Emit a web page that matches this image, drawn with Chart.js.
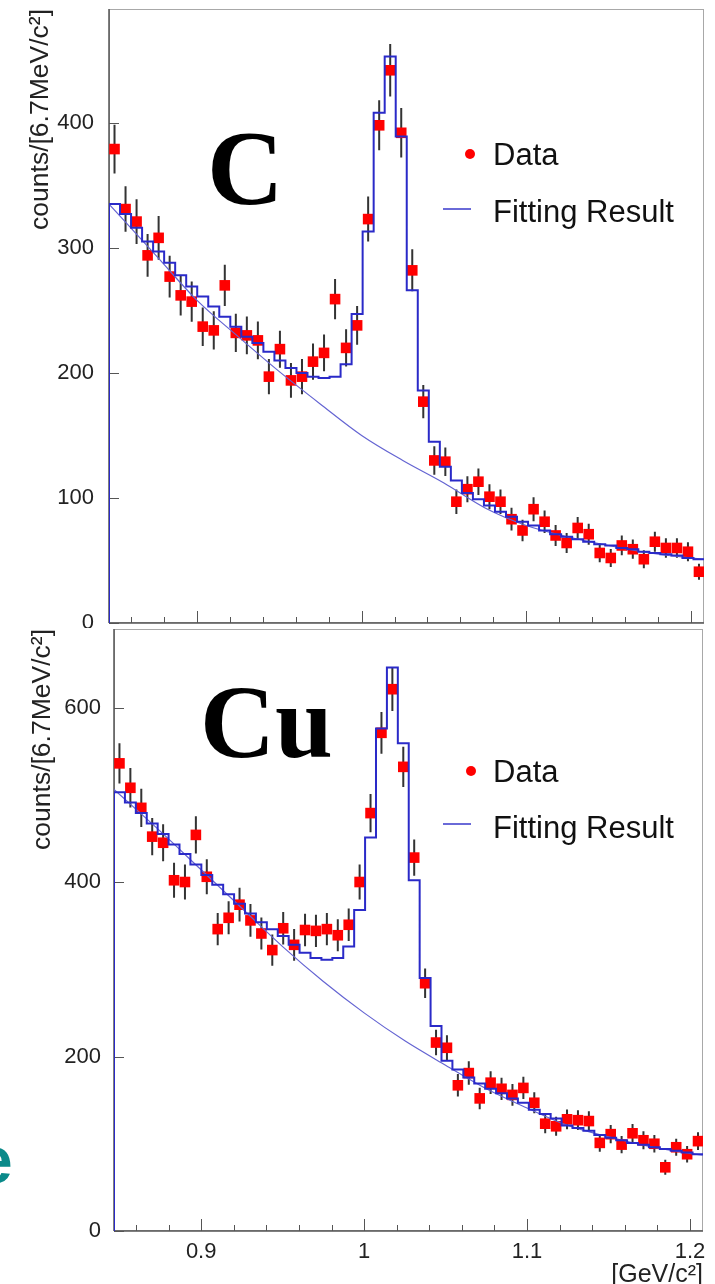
<!DOCTYPE html>
<html>
<head>
<meta charset="utf-8">
<script src="https://cdn.jsdelivr.net/npm/chart.js@4.4.1/dist/chart.umd.min.js"></script>
<style>
body { margin: 0; background: #fff; }
#page { position: relative; width: 715px; height: 1284px; overflow: hidden; background: #fff; font-family: "Liberation Sans", Arial, sans-serif; }
.panel { position: absolute; left: 0; width: 715px; background: #fff; }
.big { position: absolute; font-family: "Liberation Serif", "Times New Roman", serif; font-weight: bold; line-height: 1; color: #000; }
.leg { position: absolute; font-size: 31px; line-height: 1; color: #111; white-space: nowrap; }
.dot { position: absolute; width: 10px; height: 10px; border-radius: 50%; background: #f00; }
.dash { position: absolute; width: 28px; height: 2px; background: #6a6ad8; }
.side { position: absolute; font-family: "Liberation Sans", Arial, sans-serif; font-weight: bold; line-height: 1; color: #0a8a8a; }
</style>
</head>
<body>
<div id="page">
  <div class="panel" style="top:0;height:628px"><canvas id="chartC" width="715" height="628"></canvas></div>
  <div class="panel" style="top:628px;height:656px"><canvas id="chartCu" width="715" height="656"></canvas></div>

  <div class="big" style="left:207px;top:116px;font-size:106px">C</div>
  <div class="big" style="left:200px;top:670px;font-size:104px">Cu</div>

  <div class="dot" style="left:465px;top:149px"></div>
  <div class="leg" style="left:493px;top:139px">Data</div>
  <div class="dash" style="left:443px;top:208px"></div>
  <div class="leg" style="left:493px;top:196px">Fitting Result</div>

  <div class="dot" style="left:466px;top:766px"></div>
  <div class="leg" style="left:493px;top:756px">Data</div>
  <div class="dash" style="left:443px;top:823px"></div>
  <div class="leg" style="left:493px;top:812px">Fitting Result</div>

  <div class="side" style="left:-24px;top:1127px;font-size:66px">e</div>
</div>

<script>
// binning of the invariant mass histograms [GeV/c^2]
var BIN_LO = 0.8465;
var BIN_W = 0.0067;
var X_MIN = 0.8465;
var X_MAX = 1.208;
var X_TICKS = [0.9, 1.0, 1.1, 1.2];
var X_MINOR = [0.86, 0.88, 0.9, 0.92, 0.94, 0.96, 0.98, 1.0, 1.02, 1.04, 1.06, 1.08, 1.1, 1.12, 1.14, 1.16, 1.18, 1.2];

// C target
var C_COUNTS = [379,331,321,294,308,277,262,257,237,234,270,232,230,226,197,219,194,197,209,216,
                259,220,238,323,398,442,392,282,177,130,129,97,107,113,101,97,83,74,91,81,
                70,64,76,71,56,52,62,59,51,65,60,60,57,41];
var C_FIT = [335,327,316,305,297,288,278,269,261,253,245,237,229,224,217,210,204,200,197,196,
             197,207,247,313,408,453,389,266,186,145,125,114,104,99,94,89,85,81,78,74,
             71,69,67,65,63,62,60,59,57,56,55,54,52,51];
var C_Y_TICKS = [0, 100, 200, 300, 400];

// Cu target
var CU_COUNTS = [536,508,485,452,445,402,400,454,406,346,359,374,356,341,322,347,328,345,344,346,
                 339,351,400,479,571,621,532,428,284,216,210,167,181,152,170,163,156,164,147,123,
                 120,128,127,126,101,111,99,112,104,100,73,96,88,103];
var CU_FIT = [503,491,479,467,455,443,432,420,408,397,386,375,364,354,346,338,328,319,313,311,
              313,326,368,451,576,646,559,402,290,235,195,185,176,169,163,158,152,147,139,134,
              129,121,118,115,110,107,104,101,99,96,94,92,90,88];
var CU_Y_TICKS = [0, 200, 400, 600];

// smooth background component of the fit
var BKG_X = [0.8465, 0.875, 0.9, 0.925, 0.95, 0.975, 1.0, 1.025, 1.05, 1.075, 1.1, 1.125, 1.15, 1.175, 1.2, 1.208];
var C_BKG = [335, 294, 258, 229, 201, 175, 150, 130, 112, 92, 78, 69, 62, 56, 52, 51];
var CU_BKG = [506, 458, 414, 370, 326, 286, 250, 218, 190, 163, 141, 121, 108, 97, 89, 87];

var TXT = '#222';
var FONT = '"Liberation Sans", Arial, sans-serif';

function binPoints(vals) {
    var pts = [];
    for (var i = 0; i < vals.length; i++) {
        pts.push({x: BIN_LO + BIN_W * (i + 0.5), y: vals[i]});
    }
    return pts;
}

// histogram outline: rises from 0 at the low edge, one step per bin
function histPoints(vals) {
    var pts = [{x: BIN_LO, y: 0}];
    for (var i = 0; i < vals.length; i++) {
        pts.push({x: BIN_LO + BIN_W * (i + 1), y: vals[i]});
    }
    return pts;
}

function curvePoints(xs, ys) {
    return xs.map(function (x, i) { return {x: x, y: ys[i]}; });
}

// ROOT style frame, inward ticks and poisson error bars
var rootFrame = {
    id: 'rootFrame',
    beforeDatasetsDraw: function (chart, args, opts) {
        var a = chart.chartArea, ctx = chart.ctx;
        var xs = chart.scales.x, ys = chart.scales.y;
        ctx.save();
        ctx.strokeStyle = '#a8a8a8';
        ctx.lineWidth = 1;
        ctx.strokeRect(a.left + 0.5, a.top + 0.5, a.right - a.left - 1, a.bottom - a.top - 1);

        ctx.strokeStyle = '#555';
        ctx.lineWidth = 1.5;
        ctx.beginPath();
        ctx.moveTo(a.left, a.bottom); ctx.lineTo(a.right, a.bottom);
        ctx.moveTo(a.left, a.top); ctx.lineTo(a.left, a.bottom);
        ctx.stroke();

        ctx.lineWidth = 1;
        ctx.beginPath();
        X_MINOR.forEach(function (v) {
            var px = Math.round(xs.getPixelForValue(v)) + 0.5;
            var major = X_TICKS.some(function (t) { return Math.abs(t - v) < 1e-6; });
            ctx.moveTo(px, a.bottom);
            ctx.lineTo(px, a.bottom - (major ? 12 : 6));
        });
        ys.ticks.forEach(function (t) {
            var py = Math.round(ys.getPixelForValue(t.value)) + 0.5;
            ctx.moveTo(a.left, py);
            ctx.lineTo(a.left + 10, py);
        });
        ctx.stroke();

        var counts = opts.counts;
        var meta = chart.getDatasetMeta(0);
        ctx.strokeStyle = '#333';
        ctx.lineWidth = 2;
        ctx.beginPath();
        meta.data.forEach(function (pt, i) {
            var e = Math.sqrt(counts[i]);
            ctx.moveTo(pt.x, ys.getPixelForValue(counts[i] + e));
            ctx.lineTo(pt.x, ys.getPixelForValue(counts[i] - e));
        });
        ctx.stroke();
        ctx.restore();
    }
};

function makePanel(id, p) {
    var ctx = document.getElementById(id);
    return new Chart(ctx, {
        type: 'line',
        data: {
            datasets: [{
                label: 'Data',
                data: binPoints(p.counts),
                showLine: false,
                pointStyle: 'rect',
                pointRadius: 7.5,
                pointBackgroundColor: '#ff0000',
                pointBorderWidth: 0,
                order: 3
            }, {
                label: 'Background',
                data: curvePoints(BKG_X, p.bkg),
                borderColor: '#6464d2',
                borderWidth: 1.2,
                pointRadius: 0,
                cubicInterpolationMode: 'monotone',
                order: 2
            }, {
                label: 'Fitting Result',
                data: histPoints(p.fit),
                borderColor: '#2a2ac8',
                borderWidth: 2,
                pointRadius: 0,
                stepped: 'after',
                order: 1
            }]
        },
        options: {
            responsive: false,
            animation: false,
            events: [],
            layout: { padding: p.padding, autoPadding: false },
            plugins: {
                legend: { display: false },
                tooltip: { enabled: false },
                rootFrame: { counts: p.counts }
            },
            scales: {
                x: {
                    type: 'linear',
                    min: X_MIN,
                    max: X_MAX,
                    grid: { display: false },
                    border: { display: false },
                    afterBuildTicks: function (s) {
                        s.ticks = X_TICKS.map(function (v) { return {value: v}; });
                    },
                    afterFit: function (s) {
                        s.height = p.xHeight;
                        s.paddingLeft = 0;
                        s.paddingRight = 0;
                    },
                    ticks: {
                        display: p.xLabels,
                        padding: 0,
                        color: TXT,
                        font: { family: FONT, size: 22 },
                        maxRotation: 0,
                        callback: function (v) { return String(+v.toFixed(2)); }
                    },
                    title: {
                        display: p.xLabels,
                        text: '[GeV/c²]',
                        align: 'end',
                        color: TXT,
                        padding: { top: 0, bottom: -4 },
                        font: { family: FONT, size: 25, lineHeight: 1 }
                    }
                },
                y: {
                    min: 0,
                    max: p.yMax,
                    grid: { display: false },
                    border: { display: false },
                    afterBuildTicks: function (s) {
                        s.ticks = p.yTicks.map(function (v) { return {value: v}; });
                    },
                    afterFit: function (s) {
                        s.width = p.yWidth;
                        s.paddingTop = 0;
                        s.paddingBottom = 0;
                    },
                    ticks: {
                        padding: p.yPad,
                        color: TXT,
                        font: { family: FONT, size: 22 }
                    },
                    title: {
                        display: true,
                        text: 'counts/[6.7MeV/c²]',
                        align: 'end',
                        color: TXT,
                        padding: { top: p.titlePad, bottom: 0 },
                        font: { family: FONT, size: 26.5 }
                    }
                }
            }
        },
        plugins: [rootFrame]
    });
}

makePanel('chartC', {
    counts: C_COUNTS, fit: C_FIT, bkg: C_BKG,
    yMax: 491, yTicks: C_Y_TICKS,
    padding: { left: 0, top: 9, right: 11, bottom: 0 },
    yWidth: 109, yPad: 7, titlePad: 25,
    xHeight: 5, xLabels: false
});

makePanel('chartCu', {
    counts: CU_COUNTS, fit: CU_FIT, bkg: CU_BKG,
    yMax: 690, yTicks: CU_Y_TICKS,
    padding: { left: 0, top: 1, right: 12, bottom: 0 },
    yWidth: 114, yPad: 5, titlePad: 27,
    xHeight: 53, xLabels: true
});
</script>
</body>
</html>
